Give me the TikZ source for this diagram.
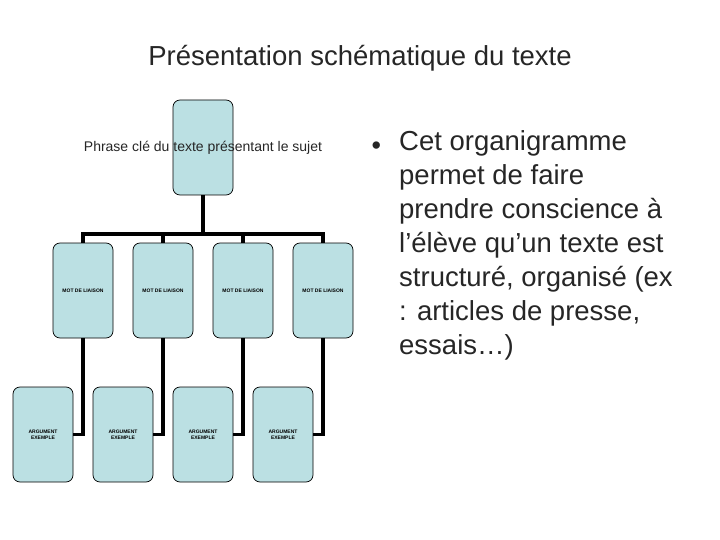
\documentclass[tikz,border=0pt]{standalone}
\usepackage{fontspec}
\setmainfont{Liberation Sans}
\begin{document}
\begin{tikzpicture}[x=1pt,y=-1pt,
  card/.style={draw=black,fill=cardfill,rounded corners=7pt,minimum width=60pt,minimum height=95pt,inner sep=0pt,line width=0.7pt},
  tiny/.style={font=\fontsize{5}{6}\selectfont\bfseries,align=center},
  link/.style={line width=3.6pt}]
\definecolor{cardfill}{RGB}{187,224,227}
\useasboundingbox (0,0) rectangle (720,540);
\node[font=\fontsize{27.5}{32}\selectfont,text=black!85] (title) at (360,58) {Présentation schématique du texte};
\node[card] (top) at (203,147.5) {};
\node[font=\fontsize{14}{17}\selectfont,text=black!85] (sent) at (203,148) {Phrase clé du texte présentant le sujet};
\foreach \i/\x in {1/83,2/163,3/243,4/323}{
  \node[card] (m\i) at (\x,290.5) {};
  \node[tiny] at (\x,291) {MOT DE LIAISON};
  \node[card] (a\i) at (\x-40,434.5) {};
  \node[tiny] at (\x-40,434.5) {ARGUMENT\\EXEMPLE};
  \draw[link] (m\i.south) |- (a\i.east);
}
\coordinate (bar) at (203,234);
\draw[link] (top.south) -- (bar);
\draw[link] (m1.north) |- (bar) -| (m4.north);
\draw[link] (m2.north) -- (m2.north |- bar);
\draw[link] (m3.north) -- (m3.north |- bar);
\node[anchor=west,font=\fontsize{27}{30}\selectfont,text=black!85] (bul) at (368,148) {•};
\node[anchor=north west,align=left,inner sep=0pt,font=\fontsize{27.5}{34}\selectfont,text=black!85] (txt) at (399,130)
 {Cet organigramme\\permet de faire\\prendre conscience à\\l’élève qu’un texte est\\structuré, organisé (ex\\: articles de presse,\\essais…)};
\end{tikzpicture}
\end{document}
